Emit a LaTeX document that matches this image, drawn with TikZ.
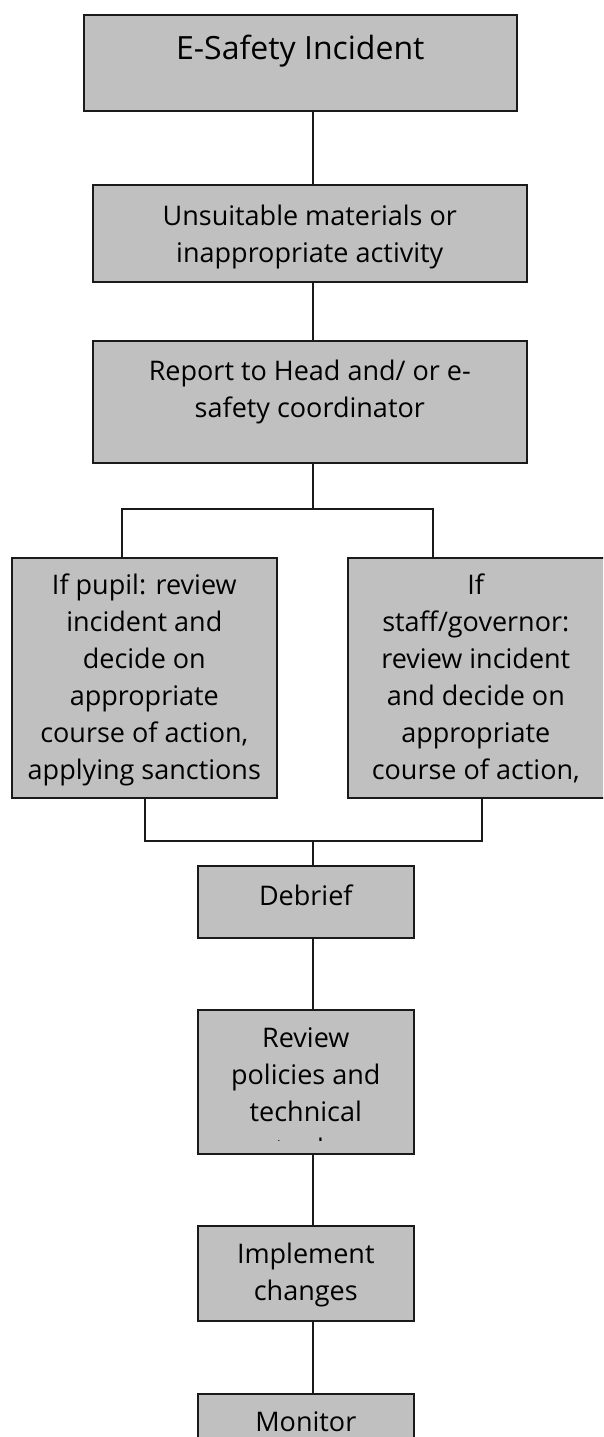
\documentclass[tikz,border=0pt]{standalone}
\usepackage{fontspec}
\setmainfont{Open Sans}
\definecolor{boxfill}{HTML}{C0C0C0}
\definecolor{ink}{HTML}{1A1A1A}
\newcommand{\topstrutx}{\rule{0pt}{30pt}}
\begin{document}
\begin{tikzpicture}[x=1pt,y=-1pt,
  box/.style={draw=ink, fill=boxfill, line width=1.6pt, rectangle, inner sep=0pt, anchor=north west},
  lbl/.style={inner sep=0pt, align=center, anchor=north, font=\fontsize{27}{37}\selectfont, text=black},
  conn/.style={draw=ink, line width=1.5pt}]
\useasboundingbox (0,0) rectangle (603,1437);
\fill[white] (0,0) rectangle (603,1437);
\clip (0,0) rectangle (603,1437);
% spine and junction coordinates
\coordinate (sp) at (313,0);
\coordinate (jt) at (313,509);
\coordinate (jb) at (313,841);
\coordinate (lx) at (122,0);
\coordinate (rx) at (433,0);
\coordinate (lbx) at (145,0);
\coordinate (rbx) at (482,0);
% boxes
\node[box, minimum width=433pt, minimum height=96pt] (inc) at (83,14) {};
\node[box, minimum width=434pt, minimum height=97pt] (uns) at (92,184) {};
\node[box, minimum width=434pt, minimum height=122pt] (rep) at (92,340) {};
\node[box, minimum width=265pt, minimum height=240pt] (pup) at (11,557) {};
\node[box, minimum width=265pt, minimum height=240pt] (stf) at (347,557) {};
\node[box, minimum width=216pt, minimum height=72pt] (deb) at (197,865) {};
\node[box, minimum width=216pt, minimum height=144pt] (rev) at (197,1009) {};
\node[box, minimum width=216pt, minimum height=95pt] (imp) at (197,1225) {};
\node[box, minimum width=216pt, minimum height=100pt] (mon) at (197,1393) {};
% texts
\node[lbl, font=\fontsize{32}{37}\selectfont] (tinc) at ([yshift=-15pt]inc.north) {\topstrutx E-Safety Incident};
\node[lbl] (tuns) at ([yshift=-11pt]uns.north) {\topstrutx Unsuitable materials or\\inappropriate activity};
\node[lbl] (trep) at ([yshift=-10pt]rep.north) {\topstrutx Report to Head and/ or e-\\safety coordinator};
\node[lbl] (tpup) at ([yshift=-7pt]pup.north) {\topstrutx If pupil: review\\incident and\\decide on\\appropriate\\course of action,\\applying sanctions};
\begin{scope}
\clip (stf.north west) rectangle ([yshift=10pt]stf.south east);
\node[lbl] (tstf) at ([yshift=-7pt,xshift=-4.5pt]stf.north) {\topstrutx If\\staff/governor:\\review incident\\and decide on\\appropriate\\course of action,};
\end{scope}
\node[lbl] (tdeb) at ([yshift=-10pt]deb.north) {\topstrutx Debrief};
\begin{scope}
\clip (rev.north west) rectangle ([yshift=14pt]rev.south east);
\node[lbl] (trev) at ([yshift=-8pt]rev.north) {\topstrutx Review\\policies and\\technical\\tools};
\end{scope}
\node[lbl] (timp) at ([yshift=-8pt]imp.north) {\topstrutx Implement\\changes};
\node[lbl] (tmon) at ([yshift=-8pt]mon.north) {\topstrutx Monitor};
% connectors
\draw[conn] (inc.south -| sp) -- (uns.north -| sp);
\draw[conn] (uns.south -| sp) -- (rep.north -| sp);
\draw[conn] (rep.south -| sp) -- (jt);
\draw[conn] (pup.north -| lx) -- (lx |- jt) -- (rx |- jt) -- (stf.north -| rx);
\draw[conn] (pup.south -| lbx) -- (lbx |- jb) -- (rbx |- jb) -- (stf.south -| rbx);
\draw[conn] (jb) -- (deb.north -| sp);
\draw[conn] (deb.south -| sp) -- (rev.north -| sp);
\draw[conn] (rev.south -| sp) -- (imp.north -| sp);
\draw[conn] (imp.south -| sp) -- (mon.north -| sp);
\end{tikzpicture}
\end{document}
